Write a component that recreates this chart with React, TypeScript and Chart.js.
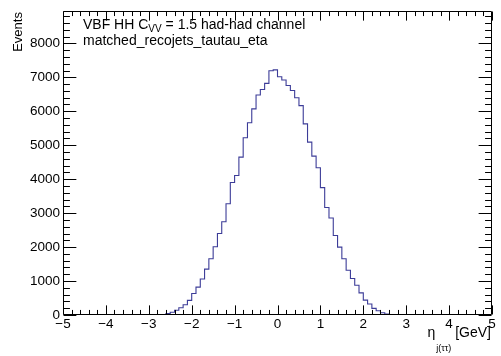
import React, { useEffect, useRef } from "react";
import { Chart, registerables } from "chart.js";

Chart.register(...registerables);

// Histogram bin edges (eta) and event counts per bin
const binEdges = [
  -2.8, -2.7, -2.6, -2.5, -2.4, -2.3, -2.2, -2.1, -2.0, -1.9, -1.8, -1.7, -1.6, -1.5,
  -1.4, -1.3, -1.2, -1.1, -1.0, -0.9, -0.8, -0.7, -0.6, -0.5, -0.4, -0.3, -0.2, -0.1,
  0.0, 0.1, 0.2, 0.3, 0.4, 0.5, 0.6, 0.7, 0.8, 0.9, 1.0, 1.1, 1.2, 1.3, 1.4, 1.5,
  1.6, 1.7, 1.8, 1.9, 2.0, 2.1, 2.2, 2.3, 2.4, 2.5, 2.6, 2.7, 2.8,
];
const binCounts = [
  5, 15, 40, 80, 140, 215, 300, 430, 635, 820, 1060, 1350, 1655, 2010,
  2400, 2745, 3275, 3900, 4110, 4650, 5220, 5660, 6070, 6480, 6640, 6820, 7195, 7220,
  7018, 6920, 6760, 6610, 6400, 6165, 5630, 5090, 4680, 4336, 3750, 3167, 2856, 2340,
  2000, 1657, 1316, 1073, 877, 652, 438, 322, 195, 126, 67, 29, 12, 4,
];

const xMin = -5;
const xMax = 5;
const yMin = 0;
const yMax = 8950;
const xMajorTicks = [-5, -4, -3, -2, -1, 0, 1, 2, 3, 4, 5];
const yMajorTicks = [0, 1000, 2000, 3000, 4000, 5000, 6000, 7000, 8000];
const yMinorStep = 200;
const xMinorStep = 0.2;

const titleLine1 = ["VBF HH C", "VV", " = 1.5 had-had channel"];
const titleLine2 = "matched_recojets_tautau_eta";
const yTitle = "Events";
const xTitle = ["η", "j(ττ)", " [GeV]"];

const FONT = '"Liberation Sans", Arial, Helvetica, sans-serif';

const fmt = (v: number) => (v < 0 ? "\u2212" + String(-v) : String(v));

const rootFrame = {
  id: "rootFrame",
  afterDraw(chart: any) {
    const { ctx, chartArea: a, scales } = chart;
    const xs = scales.x;
    const ys = scales.y;
    ctx.save();
    ctx.strokeStyle = "#000";
    ctx.lineWidth = 1;
    const L = Math.round(a.left) + 0.5;
    const R = Math.round(a.right) - 0.5;
    const T = Math.round(a.top) + 0.5;
    const B = Math.round(a.bottom) - 0.5;
    ctx.beginPath();
    ctx.rect(L, T, R - L, B - T);
    ctx.stroke();

    const h = a.bottom - a.top;
    const w = a.right - a.left;
    const xMajLen = 0.03 * h;
    const yMajLen = 0.03 * w;

    ctx.beginPath();
    const nMin = Math.round((xMax - xMin) / xMinorStep);
    for (let i = 0; i <= nMin; i++) {
      const v = xMin + i * xMinorStep;
      const isMajor = xMajorTicks.some((m) => Math.abs(m - v) < 1e-6);
      const len = isMajor ? xMajLen : xMajLen / 2;
      const px = Math.round(xs.getPixelForValue(v)) + 0.5;
      ctx.moveTo(px, B);
      ctx.lineTo(px, B - len);
      ctx.moveTo(px, T);
      ctx.lineTo(px, T + len);
    }
    for (let v = yMin; v <= yMax; v += yMinorStep) {
      const isMajor = yMajorTicks.includes(v);
      const len = isMajor ? yMajLen : yMajLen / 2;
      const py = Math.round(ys.getPixelForValue(v)) + 0.5;
      ctx.moveTo(L, py);
      ctx.lineTo(L + len, py);
      ctx.moveTo(R, py);
      ctx.lineTo(R - len, py);
    }
    ctx.stroke();

    ctx.fillStyle = "#000";
    ctx.textBaseline = "alphabetic";
    ctx.textAlign = "left";
    let tx = a.left + 20;
    const big = `14px ${FONT}`;
    const small = `10px ${FONT}`;
    ctx.font = big;
    ctx.fillText(titleLine1[0], tx, 29);
    tx += ctx.measureText(titleLine1[0]).width;
    ctx.font = small;
    ctx.fillText(titleLine1[1], tx, 32);
    tx += ctx.measureText(titleLine1[1]).width;
    ctx.font = big;
    ctx.fillText(titleLine1[2], tx, 29);
    ctx.fillText(titleLine2, a.left + 20, 45);

    ctx.save();
    ctx.translate(22, a.top + 1);
    ctx.rotate(-Math.PI / 2);
    ctx.font = `13px ${FONT}`;
    ctx.textAlign = "right";
    ctx.fillText(yTitle, 0, 0);
    ctx.restore();

    const xb = 337;
    ctx.font = `14px ${FONT}`;
    const w0 = ctx.measureText(xTitle[0]).width;
    const w2 = ctx.measureText(xTitle[2]).width;
    ctx.font = `9px ${FONT}`;
    const w1 = ctx.measureText(xTitle[1]).width;
    let sx = a.right - 1 - (w0 + w1 + w2 + 1);
    ctx.font = `14px ${FONT}`;
    ctx.fillText(xTitle[0], sx, xb);
    sx += w0 + 1;
    ctx.font = `9px ${FONT}`;
    ctx.fillText(xTitle[1], sx, xb + 14);
    sx += w1;
    ctx.font = `14px ${FONT}`;
    ctx.fillText(xTitle[2], sx, xb);

    ctx.restore();
  },
};

export default function App() {
  const ref = useRef<HTMLCanvasElement | null>(null);

  useEffect(() => {
    document.body.style.margin = "0";
    const canvas = ref.current;
    if (!canvas) return;

    const points = [{ x: binEdges[0], y: 0 }];
    binCounts.forEach((c, i) => points.push({ x: binEdges[i + 1], y: c }));
    points.push({ x: binEdges[binEdges.length - 1], y: 0 });

    const chart = new Chart(canvas, {
      type: "line",
      data: {
        datasets: [
          {
            data: points,
            stepped: "after",
            borderColor: "#3c3c98",
            borderWidth: 1.1,
            pointRadius: 0,
            fill: false,
            tension: 0,
          },
        ],
      },
      options: {
        animation: false,
        responsive: false,
        maintainAspectRatio: false,
        devicePixelRatio: 1,
        layout: { padding: { top: 9, right: 9, left: 0, bottom: 0 } },
        plugins: {
          legend: { display: false },
          tooltip: { enabled: false },
          title: { display: false },
        },
        scales: {
          x: {
            type: "linear",
            min: xMin,
            max: xMax,
            grid: { display: false, drawTicks: false },
            border: { display: false },
            ticks: {
              color: "#000",
              font: { family: FONT, size: 13.5 },
              padding: 1,
              maxRotation: 0,
              autoSkip: false,
              callback: (v: any) => fmt(Number(v)),
            },
            afterBuildTicks: (s: any) => {
              s.ticks = xMajorTicks.map((v) => ({ value: v }));
            },
            afterFit: (s: any) => {
              s.height = 41;
            },
          },
          y: {
            type: "linear",
            min: yMin,
            max: yMax,
            grid: { display: false, drawTicks: false },
            border: { display: false },
            ticks: {
              color: "#000",
              font: { family: FONT, size: 13.5 },
              padding: 3,
              autoSkip: false,
              callback: (v: any) => String(v),
            },
            afterBuildTicks: (s: any) => {
              s.ticks = yMajorTicks.map((v) => ({ value: v }));
            },
            afterFit: (s: any) => {
              s.width = 63;
            },
          },
        },
      },
      plugins: [rootFrame],
    });

    return () => chart.destroy();
  }, []);

  return (
    <div style={{ width: 501, height: 356 }}>
      <canvas ref={ref} width={501} height={356} style={{ display: "block", width: 501, height: 356 }} />
    </div>
  );
}
